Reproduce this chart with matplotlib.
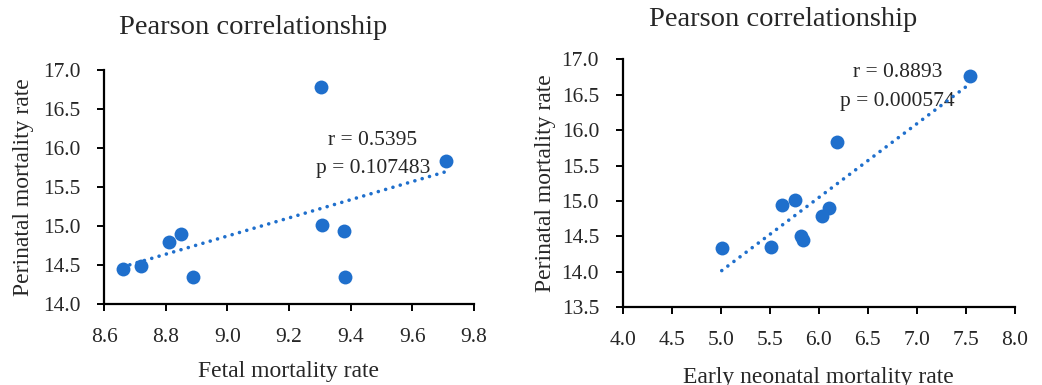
import numpy as np
import matplotlib
matplotlib.use("Agg")
import matplotlib.pyplot as plt

# Data
fetal_rate = [8.66, 8.72, 8.81, 8.85, 8.89, 9.305, 9.308, 9.377, 9.383, 9.71]
perinatal_left = [14.45, 14.49, 14.79, 14.90, 14.35, 16.78, 15.01, 14.94, 14.35, 15.83]

early_neonatal_rate = [5.01, 5.51, 5.62, 5.76, 5.82, 5.84, 6.03, 6.10, 6.18, 7.54]
perinatal_right = [14.34, 14.35, 14.94, 15.01, 14.50, 14.45, 14.79, 14.90, 15.83, 16.77]

left_xticks = [8.6, 8.8, 9.0, 9.2, 9.4, 9.6, 9.8]
left_yticks = [14.0, 14.5, 15.0, 15.5, 16.0, 16.5, 17.0]
right_xticks = [4.0, 4.5, 5.0, 5.5, 6.0, 6.5, 7.0, 7.5, 8.0]
right_yticks = [13.5, 14.0, 14.5, 15.0, 15.5, 16.0, 16.5, 17.0]

title = "Pearson correlationship"
ylabel = "Perinatal mortality rate"
left_xlabel = "Fetal mortality rate"
right_xlabel = "Early neonatal mortality rate"
left_stats = ["r = 0.5395", "p = 0.107483"]
right_stats = ["r = 0.8893", "p = 0.000574"]

BLUE = "#1f6fcc"
TXT = "#262626"
plt.rcParams['font.family'] = ['Liberation Serif', 'DejaVu Serif']

fig = plt.figure(figsize=(10.42, 3.85), dpi=100)
W, H = 1042, 385

def setup(ax, xt, yt):
    for s in ['top', 'right']:
        ax.spines[s].set_visible(False)
    for s in ['left', 'bottom']:
        ax.spines[s].set_linewidth(1.6)
        ax.spines[s].set_color('black')
    ax.set_xticks(xt)
    ax.set_yticks(yt)
    ax.set_xticklabels([f"{v:.1f}" for v in xt])
    ax.set_yticklabels([f"{v:.1f}" for v in yt])
    ax.set_xlim(xt[0], xt[-1])
    ax.set_ylim(yt[0], yt[-1])
    ax.tick_params(axis='both', direction='out', length=5, width=1.4,
                   labelsize=15.5, labelcolor=TXT, color='black')
    ax.tick_params(axis='x', pad=12)
    ax.tick_params(axis='y', pad=12)

def trend(ax, x, y):
    x = np.array(x); y = np.array(y)
    m, b = np.polyfit(x, y, 1)
    xs = np.array([x.min(), x.max()])
    ax.plot(xs, m * xs + b, color=BLUE, linewidth=2.6,
            linestyle=(0, (0.01, 2.1)), dash_capstyle='round', zorder=2)

# Left
ax1 = fig.add_axes([104 / W, 1 - 304 / H, 370 / W, 234 / H])
setup(ax1, left_xticks, left_yticks)
trend(ax1, fetal_rate, perinatal_left)
ax1.scatter(fetal_rate, perinatal_left, s=100, color=BLUE, zorder=3, linewidths=0, clip_on=False)
ax1.text(0.727, 0.697, left_stats[0], transform=ax1.transAxes, ha='center', va='center',
         fontsize=15.5, color=TXT, zorder=1)
ax1.text(0.727, 0.581, left_stats[1], transform=ax1.transAxes, ha='center', va='center',
         fontsize=15.5, color=TXT, zorder=1)

# Right
ax2 = fig.add_axes([622.7 / W, 1 - 307.3 / H, 392.3 / W, 248 / H])
setup(ax2, right_xticks, right_yticks)
trend(ax2, early_neonatal_rate, perinatal_right)
ax2.scatter(early_neonatal_rate, perinatal_right, s=100, color=BLUE, zorder=3, linewidths=0, clip_on=False)
ax2.text(0.700, 0.945, right_stats[0], transform=ax2.transAxes, ha='center', va='center',
         fontsize=15.5, color=TXT, zorder=1)
ax2.text(0.700, 0.828, right_stats[1], transform=ax2.transAxes, ha='center', va='center',
         fontsize=15.5, color=TXT, zorder=1)

# Titles and labels
fig.text(253 / W, 1 - 27 / H, title, ha='center', va='center', fontsize=20.5, color=TXT)
fig.text(783.5 / W, 1 - 20 / H, title, ha='center', va='center', fontsize=20.5, color=TXT)
fig.text(24 / W, 1 - 187 / H, ylabel, rotation=90, ha='center', va='center', fontsize=17, color=TXT)
fig.text(546 / W, 1 - 183 / H, ylabel, rotation=90, ha='center', va='center', fontsize=17, color=TXT)
fig.text(289 / W, 1 - 372 / H, left_xlabel, ha='center', va='center', fontsize=17, color=TXT)
fig.text(818 / W, 1 - 377 / H, right_xlabel, ha='center', va='center', fontsize=17, color=TXT)

fig.savefig("out.png", dpi=100)
